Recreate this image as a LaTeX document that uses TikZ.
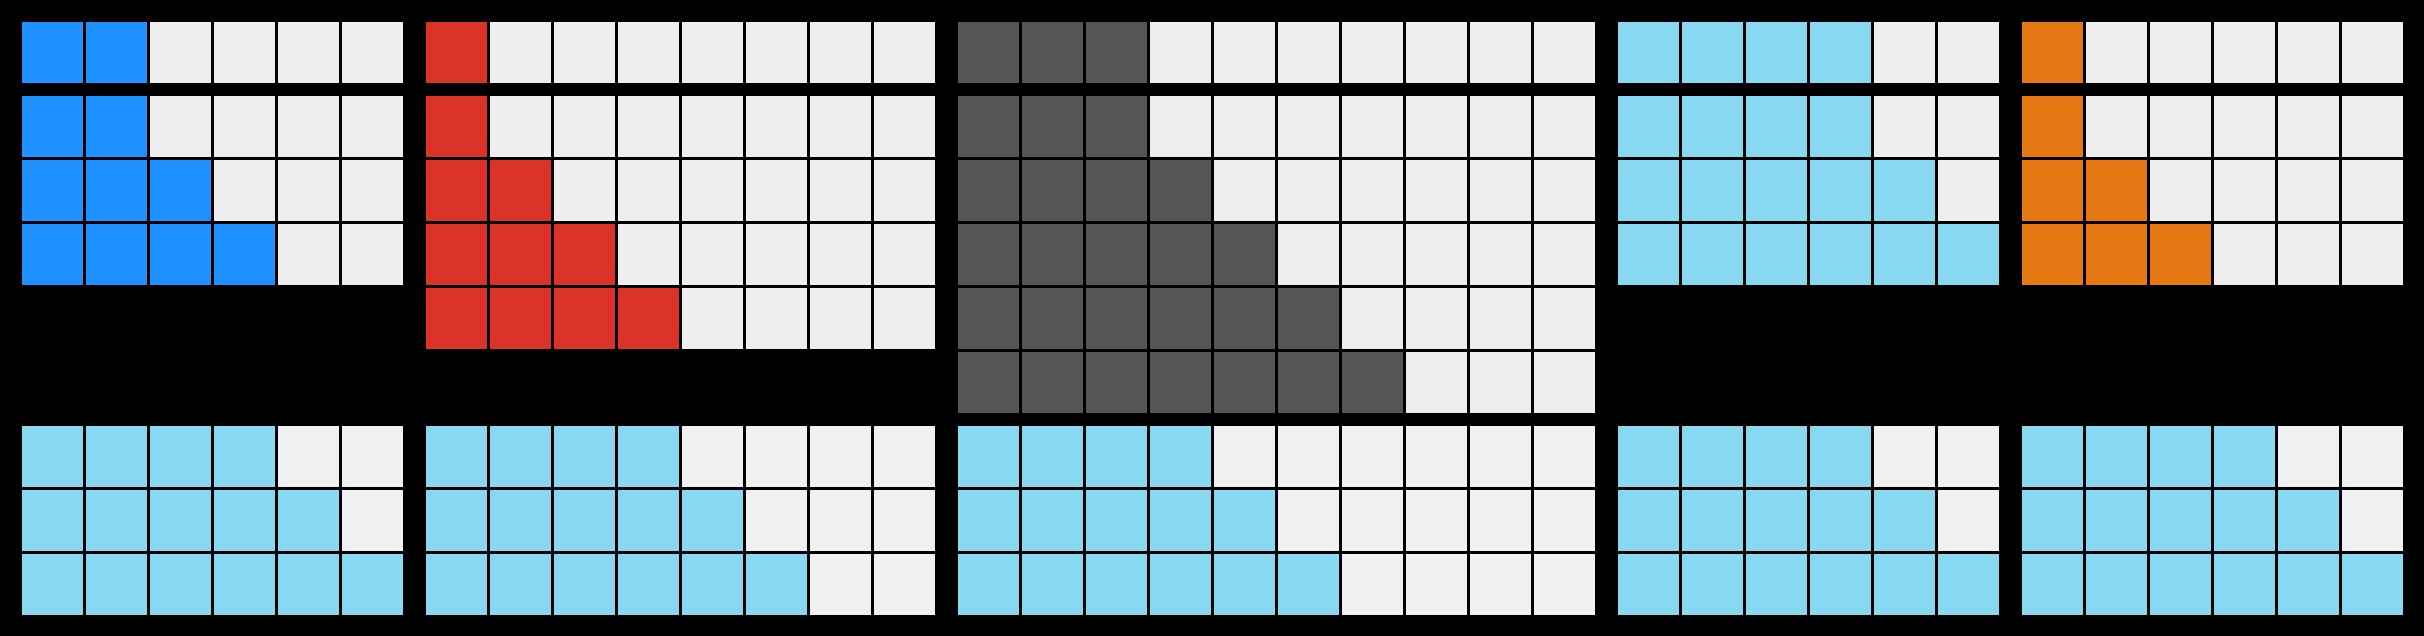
\documentclass[tikz,border=0pt]{standalone}
\definecolor{cblue}{HTML}{1E90FF}
\definecolor{cred}{HTML}{DC3328}
\definecolor{cgray}{HTML}{555555}
\definecolor{clight}{HTML}{87D8F0}
\definecolor{corange}{HTML}{E67813}
\definecolor{cempty}{HTML}{EEEEEE}
\definecolor{cemptyb}{HTML}{F0F0F0}
\newcommand\myrow[6]{% x0, y0, ncols, nfilled, fill colour, empty colour
  \foreach \i in {1,...,#3}{%
    \pgfmathsetmacro\cx{#1+(\i-1)*64}%
    \ifnum\i>#4\relax\def\cc{#6}\else\def\cc{#5}\fi
    \fill[\cc] (\cx,#2) rectangle ++(61,61);
  }}
% x0, ncols, colour, top count, middle counts, bottom counts
\newcommand\mygrid[6]{%
  \myrow{#1}{22}{#2}{#4}{#3}{cempty}
  \foreach \n [count=\k from 0] in {#5}{%
    \pgfmathsetmacro\cy{96+\k*64}%
    \myrow{#1}{\cy}{#2}{\n}{#3}{cempty}
  }
  \foreach \n [count=\k from 0] in {#6}{%
    \pgfmathsetmacro\cy{426+\k*64}%
    \myrow{#1}{\cy}{#2}{\n}{clight}{cemptyb}
  }}
\begin{document}
\begin{tikzpicture}[x=1pt,y=-1pt]
  \fill[black] (0,0) rectangle (2424,636);
  \useasboundingbox (0,0) rectangle (2424,636);
  \mygrid{22}{6}{cblue}{2}{2,3,4}{4,5,6}
  \mygrid{426}{8}{cred}{1}{1,2,3,4}{4,5,6}
  \mygrid{958}{10}{cgray}{3}{3,4,5,6,7}{4,5,6}
  \mygrid{1618}{6}{clight}{4}{4,5,6}{4,5,6}
  \mygrid{2022}{6}{corange}{1}{1,2,3}{4,5,6}
\end{tikzpicture}
\end{document}
